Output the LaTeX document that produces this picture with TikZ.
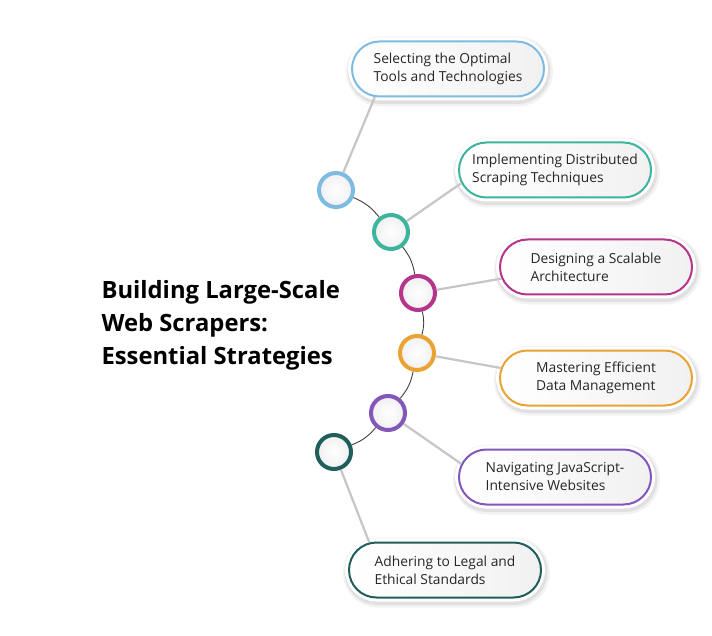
\documentclass[tikz,border=0pt]{standalone}
\usepackage{fontspec}
\setmainfont{Open Sans}
\usetikzlibrary{shapes.misc}
\definecolor{cA}{HTML}{7DBBE2}
\definecolor{cB}{HTML}{3DB59E}
\definecolor{cC}{HTML}{B5358B}
\definecolor{cD}{HTML}{E9A332}
\definecolor{cE}{HTML}{8257B9}
\definecolor{cF}{HTML}{1F5E5B}
\begin{document}
\begin{tikzpicture}[x=1pt,y=-1pt,
  pill/.style={rounded rectangle, draw=#1, line width=2pt,
    minimum width=196pt, minimum height=55pt, inner sep=2pt,
    left color=white, right color=gray!11,
    align=left, font=\fontsize{13.8}{18}\selectfont, text=black!85,
    preaction={draw=black, draw opacity=0.05, line width=15pt, transform canvas={xshift=1.5pt,yshift=-2.5pt}},
    preaction={draw=black, draw opacity=0.07, line width=11pt, transform canvas={xshift=1pt,yshift=-2pt}},
    preaction={draw=white, line width=8pt}},
  dot/.style={circle, draw=#1, line width=4pt, minimum size=34pt, inner sep=0pt,
    inner color=white, outer color=gray!12},
  link/.style={draw=gray!45, line width=2.2pt},
  spine/.style={draw=black!75, line width=0.9pt}]
\useasboundingbox[fill=white] (0,0) rectangle (712,636);

% title
\node[anchor=west, align=left, font=\bfseries\fontsize{23.8}{33}\selectfont] (title) at (98,325)
  {Building Large-Scale\\Web Scrapers:\\Essential Strategies};

% circles
\node[dot=cA] (c1) at (336,190) {};
\node[dot=cB] (c2) at (391,232) {};
\node[dot=cC] (c3) at (418,293) {};
\node[dot=cD] (c4) at (417,353) {};
\node[dot=cE] (c5) at (388,413) {};
\node[dot=cF] (c6) at (334,452) {};

% pills
\node[pill=cA] (p1) at (448,69) {Selecting the Optimal\\Tools and Technologies};
\node[pill=cB] (p2) at (555,170) {Implementing Distributed\\Scraping Techniques};
\node[pill=cC] (p3) at (596,267) {Designing a Scalable\\Architecture};
\node[pill=cD] (p4) at (596,378) {Mastering Efficient\\Data Management};
\node[pill=cE] (p5) at (555,477) {Navigating JavaScript-\\Intensive Websites};
\node[pill=cF] (p6) at (445,570) {Adhering to Legal and\\Ethical Standards};

% spine
\draw[spine] (c1) to[bend left=14] (c2);
\draw[spine] (c2) to[bend left=14] (c3);
\draw[spine] (c3) to[bend left=14] (c4);
\draw[spine] (c4) to[bend left=14] (c5);
\draw[spine] (c5) to[bend left=14] (c6);

% links
\draw[link] (c1) -- (p1.201);
\draw[link] (c2) -- (p2.188);
\draw[link] (c3) -- (p3.187);
\draw[link] (c4) -- (p4.174);
\draw[link] (c5) -- (p5.172);
\draw[link] (c6) -- (p6.160);
\end{tikzpicture}
\end{document}
